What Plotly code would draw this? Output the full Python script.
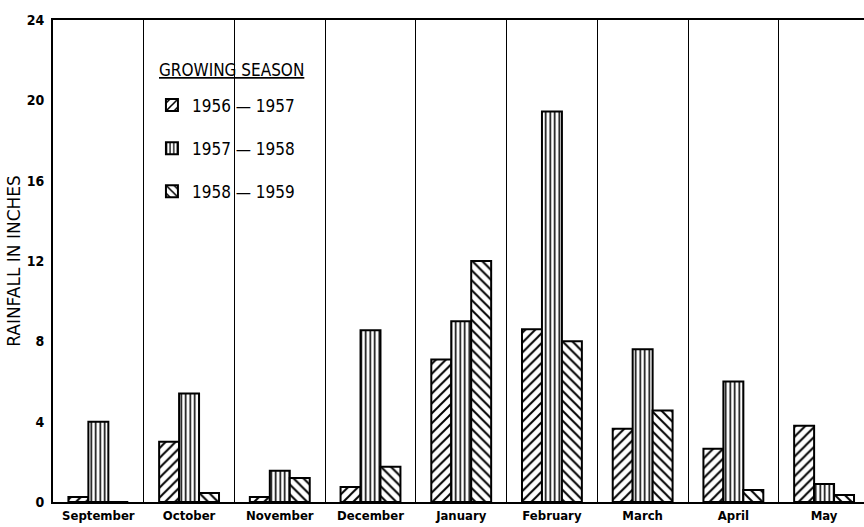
import plotly.graph_objects as go

months = ["September", "October", "November", "December", "January",
          "February", "March", "April", "May"]
season_names = ["1956 \u2014 1957", "1957 \u2014 1958", "1958 \u2014 1959"]
rain_1956_57 = [0.25, 3.0, 0.25, 0.75, 7.1, 8.6, 3.65, 2.65, 3.8]
rain_1957_58 = [4.0, 5.4, 1.55, 8.55, 9.0, 19.45, 7.6, 6.0, 0.9]
rain_1958_59 = [0.0, 0.45, 1.2, 1.75, 12.0, 8.0, 4.55, 0.6, 0.35]
y_ticks = [0, 4, 8, 12, 16, 20, 24]
legend_title = "GROWING SEASON"

series = [rain_1956_57, rain_1957_58, rain_1958_59]
patterns = [("/", 7, 0.28), ("|", 4.5, 0.35), ("\\", 7, 0.28)]

FONT = "DejaVu Sans Condensed"

fig = go.Figure()
for i, (name, vals) in enumerate(zip(season_names, series)):
    shape, size, sol = patterns[i]
    fig.add_trace(go.Bar(
        x=months, y=vals, name=name,
        legendgroup="g%d" % i,
        marker=dict(
            color="white",
            line=dict(color="black", width=2),
            pattern=dict(shape=shape, size=size, solidity=sol,
                         fgcolor="black", bgcolor="white", fillmode="replace"),
        ),
    ))

fig.add_annotation(
    xref="paper", yref="paper", x=0.128, y=0.896, xanchor="left", yanchor="middle",
    text="<u>" + legend_title + "</u>", showarrow=False,
    font=dict(family=FONT, size=17, color="black"),
)

fig.update_layout(
    width=864, height=527,
    margin=dict(l=53, r=0, t=20, b=25),
    paper_bgcolor="white", plot_bgcolor="white",
    barmode="group", bargap=0.34, bargroupgap=0,
    font=dict(family=FONT, color="black"),
    legend=dict(
        x=0.122, y=0.860, xanchor="left", yanchor="top",
        bgcolor="rgba(0,0,0,0)",
        font=dict(family=FONT, size=17, color="black"),
        tracegroupgap=18,
        itemwidth=30,
    ),
    xaxis=dict(
        range=[-0.5, 8.44],
        showline=True, linecolor="black", linewidth=2, mirror=True,
        tickson="boundaries", ticks="", showgrid=True,
        gridcolor="black", gridwidth=1,
        tickfont=dict(family=FONT, size=13, color="black", weight="bold"),
        fixedrange=True,
    ),
    yaxis=dict(
        range=[0, 24], tickvals=y_ticks,
        showline=True, linecolor="black", linewidth=2,
        showgrid=False, zeroline=False, ticks="",
        ticklabelstandoff=4,
        tickfont=dict(family=FONT, size=14, color="black", weight="bold"),
        title=dict(text="RAINFALL IN INCHES", font=dict(family="DejaVu Sans", size=17, color="black"), standoff=2),
    ),
)

fig.write_html("out.html", config={"displayModeBar": False},
               post_script="document.body.style.margin='0';document.body.style.overflow='hidden';")
